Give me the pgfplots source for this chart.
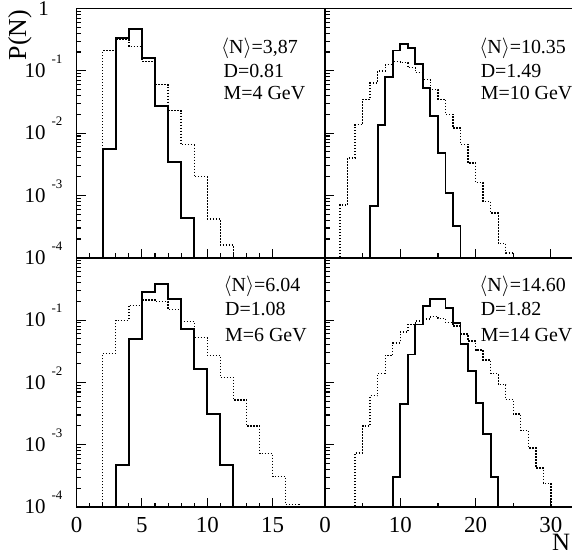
\documentclass[border=0pt]{standalone}
\usepackage{fontspec}
\setmainfont{Liberation Serif}
\usepackage{graphicx}
\usepackage{pgfplots}
\pgfplotsset{compat=1.18}

\newcommand{\tenl}[1]{\mbox{\fontsize{21}{21}\selectfont 10\hspace{6bp}\smash{\raisebox{14bp}{\fontsize{13}{13}\selectfont #1}}}}
\newcommand{\onel}{\mbox{\fontsize{21}{21}\selectfont 1}}
\newcommand{\xl}[1]{\mbox{\fontsize{23}{23}\selectfont #1}}

\begin{document}
\begin{tikzpicture}
\useasboundingbox (0,0) rectangle (572bp,557bp);

% ---------- top-left: M = 4 GeV ----------
\begin{axis}[ymode=log, ymin=1e-4, ymax=1,
    width=248.5bp, height=249.25bp, scale only axis,
    axis line style={line width=1.6bp},
    tick pos=left, tick align=inside,
    major tick length=9bp, minor tick length=4.5bp,
    tick style={line width=1.1bp, black},
    ytick={1e-4,1e-3,1e-2,1e-1,1},
    yticklabel style={anchor=center, xshift=-33bp},
    yticklabel={\pgfmathtruncatemacro\ee{\ticknum-4}\ifnum\ee=0 \onel\else\tenl{\ee}\fi},
    xticklabel style={anchor=center, yshift=-18bp},
    anchor=south west, at={(76.5bp,299.25bp)},
    xmin=0, xmax=19, xtick={0,5,10,15}, minor x tick num=4,
    xticklabels={}]
\addplot[const plot, black, line width=1.9bp, mark=none] coordinates {(2,1e-5) (2,5.6e-3) (3,0.34) (4,0.47) (5,0.158) (6,0.027) (7,3.4e-3) (8,4.3e-4) (9,1e-5)};
\addplot[const plot, black, line width=1.4bp, dash pattern=on 1.4bp off 1.6bp, mark=none] coordinates {(2,1e-5) (2,0.211) (3,0.317) (4,0.248) (5,0.142) (6,0.060) (7,0.023) (8,6.5e-3) (9,2.0e-3) (10,4.2e-4) (11,1.6e-4) (12,1e-5)};
\node[anchor=base west, font=\fontsize{20}{20}\selectfont] at (axis description cs:0.568,0.821) {$\langle$N$\rangle$=3,87};
\node[anchor=base west, font=\fontsize{20}{20}\selectfont] at (axis description cs:0.578,0.725) {D=0.81};
\node[anchor=base west, font=\fontsize{20}{20}\selectfont] at (axis description cs:0.578,0.633) {M=4 GeV};
\end{axis}

% ---------- top-right: M = 10 GeV ----------
\begin{axis}[ymode=log, ymin=1e-4, ymax=1,
    width=248.5bp, height=249.25bp, scale only axis,
    axis line style={line width=1.6bp},
    tick pos=left, tick align=inside,
    major tick length=9bp, minor tick length=4.5bp,
    tick style={line width=1.1bp, black},
    ytick={1e-4,1e-3,1e-2,1e-1,1},
    xticklabel style={anchor=center, yshift=-18bp},
    anchor=south west, at={(325bp,299.25bp)},
    xmin=0, xmax=33, xtick={0,10,20,30}, minor x tick num=1,
    xticklabels={}, yticklabels={}]
\addplot[const plot, black, line width=1.9bp, mark=none] coordinates {(6,1e-5) (6,6.8e-4) (7,0.0137) (8,0.079) (9,0.212) (10,0.272) (11,0.234) (12,0.130) (13,0.053) (14,0.019) (15,4.8e-3) (16,1.1e-3) (17,3.2e-4) (18,1e-5)};
\addplot[const plot, black, line width=1.4bp, dash pattern=on 1.4bp off 1.6bp, mark=none] coordinates {(2,1e-5) (2,7.0e-4) (3,4.0e-3) (4,0.0137) (5,0.035) (6,0.064) (7,0.099) (8,0.126) (9,0.14) (10,0.135) (11,0.112) (12,0.093) (13,0.072) (14,0.050) (15,0.035) (16,0.020) (17,0.012) (18,6.6e-3) (19,3.3e-3) (20,1.6e-3) (21,8.0e-4) (22,5.2e-4) (23,1.7e-4) (24,1.2e-4) (25,1e-5)};
\node[anchor=base west, font=\fontsize{20}{20}\selectfont] at (axis description cs:0.607,0.821) {$\langle$N$\rangle$=10.35};
\node[anchor=base west, font=\fontsize{20}{20}\selectfont] at (axis description cs:0.613,0.725) {D=1.49};
\node[anchor=base west, font=\fontsize{20}{20}\selectfont] at (axis description cs:0.613,0.633) {M=10 GeV};
\end{axis}

% ---------- bottom-left: M = 6 GeV ----------
\begin{axis}[ymode=log, ymin=1e-4, ymax=1,
    width=248.5bp, height=249.25bp, scale only axis,
    axis line style={line width=1.6bp},
    tick pos=left, tick align=inside,
    major tick length=9bp, minor tick length=4.5bp,
    tick style={line width=1.1bp, black},
    ytick={1e-4,1e-3,1e-2,1e-1,1},
    yticklabel style={anchor=center, xshift=-33bp},
    yticklabel={\pgfmathtruncatemacro\ee{\ticknum-4}\ifnum\ee=0 \else\tenl{\ee}\fi},
    xticklabel style={anchor=center, yshift=-18bp},
    anchor=south west, at={(76.5bp,50bp)},
    xmin=0, xmax=19, xtick={0,5,10,15}, minor x tick num=4,
    xticklabels={\xl{0},\xl{5},\xl{10},\xl{15}}]
\addplot[const plot, black, line width=1.9bp, mark=none] coordinates {(3,1e-5) (3,4.7e-4) (4,0.050) (5,0.286) (6,0.385) (7,0.221) (8,0.071) (9,0.0166) (10,3.1e-3) (11,4.7e-4) (12,1e-5)};
\addplot[const plot, black, line width=1.4bp, dash pattern=on 1.4bp off 1.6bp, mark=none] coordinates {(2,1e-5) (2,0.029) (3,0.099) (4,0.173) (5,0.21) (6,0.20) (7,0.149) (8,0.094) (9,0.052) (10,0.027) (11,0.012) (12,5.2e-3) (13,2.0e-3) (14,7.2e-4) (15,3.1e-4) (16,1.1e-4) (17,1e-5)};
\node[anchor=base west, font=\fontsize{20}{20}\selectfont] at (axis description cs:0.578,0.864) {$\langle$N$\rangle$=6.04};
\node[anchor=base west, font=\fontsize{20}{20}\selectfont] at (axis description cs:0.584,0.770) {D=1.08};
\node[anchor=base west, font=\fontsize{20}{20}\selectfont] at (axis description cs:0.584,0.662) {M=6 GeV};
\end{axis}

% ---------- bottom-right: M = 14 GeV ----------
\begin{axis}[ymode=log, ymin=1e-4, ymax=1,
    width=248.5bp, height=249.25bp, scale only axis,
    axis line style={line width=1.6bp},
    tick pos=left, tick align=inside,
    major tick length=9bp, minor tick length=4.5bp,
    tick style={line width=1.1bp, black},
    ytick={1e-4,1e-3,1e-2,1e-1,1},
    xticklabel style={anchor=center, yshift=-18bp},
    anchor=south west, at={(325bp,50bp)},
    xmin=0, xmax=33, xtick={0,10,20,30}, minor x tick num=1,
    xticklabels={\xl{0},\xl{10},\xl{20},\xl{30}},
    yticklabels={}]
\addplot[const plot, black, line width=1.9bp, mark=none] coordinates {(9,1e-5) (9,3.0e-4) (10,4.5e-3) (11,0.028) (12,0.085) (13,0.168) (14,0.221) (15,0.215) (16,0.158) (17,0.091) (18,0.041) (19,0.015) (20,4.7e-3) (21,1.5e-3) (22,3.0e-4) (23,1e-5)};
\addplot[const plot, black, line width=1.4bp, dash pattern=on 1.4bp off 1.6bp, mark=none] coordinates {(4,1e-5) (4,7.4e-4) (5,2.0e-3) (6,6.1e-3) (7,0.014) (8,0.027) (9,0.043) (10,0.064) (11,0.085) (12,0.096) (13,0.104) (14,0.113) (15,0.105) (16,0.091) (17,0.080) (18,0.060) (19,0.046) (20,0.033) (21,0.023) (22,0.014) (23,9.2e-3) (24,5.3e-3) (25,3.1e-3) (26,1.7e-3) (27,8.8e-4) (28,4.2e-4) (29,2.4e-4) (30,1e-5)};
\node[anchor=base west, font=\fontsize{20}{20}\selectfont] at (axis description cs:0.607,0.864) {$\langle$N$\rangle$=14.60};
\node[anchor=base west, font=\fontsize{20}{20}\selectfont] at (axis description cs:0.613,0.770) {D=1.82};
\node[anchor=base west, font=\fontsize{20}{20}\selectfont] at (axis description cs:0.613,0.662) {M=14 GeV};
\end{axis}

\node[rotate=90, font=\fontsize{26}{26}\selectfont] at (20bp,522bp) {P(N)};
\node[font=\fontsize{25}{25}\selectfont] at (561bp,15bp) {N};
\end{tikzpicture}
\end{document}
